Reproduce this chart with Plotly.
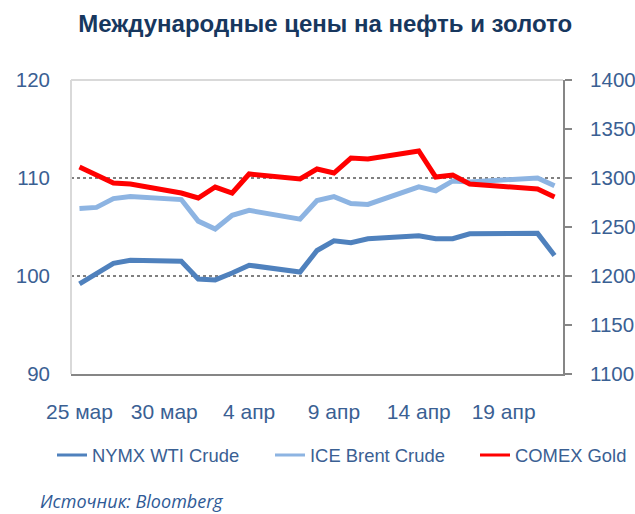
import plotly.graph_objects as go

dates = ["2014-03-25", "2014-03-26", "2014-03-27", "2014-03-28", "2014-03-31",
         "2014-04-01", "2014-04-02", "2014-04-03", "2014-04-04", "2014-04-07",
         "2014-04-08", "2014-04-09", "2014-04-10", "2014-04-11", "2014-04-14",
         "2014-04-15", "2014-04-16", "2014-04-17", "2014-04-21", "2014-04-22"]

wti = [99.2, 100.3, 101.3, 101.6, 101.5, 99.7, 99.6, 100.3, 101.1, 100.4,
       102.6, 103.6, 103.4, 103.8, 104.1, 103.8, 103.8, 104.3, 104.35, 102.1]
brent = [106.9, 107.0, 107.9, 108.1, 107.8, 105.6, 104.8, 106.2, 106.7, 105.8,
         107.7, 108.1, 107.4, 107.3, 109.1, 108.7, 109.7, 109.6, 110.0, 109.2]
gold = [1311.2, 1303.0, 1294.9, 1293.9, 1284.7, 1279.6, 1290.8, 1284.7, 1304.1, 1299.0,
        1309.2, 1305.1, 1320.4, 1319.4, 1327.6, 1301.0, 1303.1, 1293.9, 1288.8, 1280.6]

series_names = ["NYMX WTI Crude", "ICE Brent Crude", "COMEX Gold"]
series_colors = ["#4F81BD", "#8DB4E2", "#FF0000"]

tick_dates = ["2014-03-25", "2014-03-30", "2014-04-04", "2014-04-09", "2014-04-14", "2014-04-19"]
tick_labels = ["25 мар", "30 мар", "4 апр", "9 апр", "14 апр", "19 апр"]

TXT = "#3A6093"
FONT = "Liberation Sans, Arial, sans-serif"

fig = go.Figure()
values = [wti, brent, gold]
axes = ["y", "y", "y2"]
legends = ["legend", "legend2", "legend3"]
for name, color, vals, ax in zip(series_names, series_colors, values, axes):
    fig.add_trace(go.Scatter(x=dates, y=vals, name=name, mode="lines", yaxis=ax,
                             line=dict(color=color, width=5), showlegend=False,
                             hoverinfo="skip"))
# legend entries (thinner sample lines, as in the reference)
for name, color, ax, lg in zip(series_names, series_colors, axes, legends):
    fig.add_trace(go.Scatter(x=[None], y=[None], name=name, mode="lines", yaxis=ax,
                             line=dict(color=color, width=3), legend=lg))

leg_common = dict(orientation="h", xref="container", yref="container",
                  xanchor="left", yanchor="middle", y=1 - 455 / 514,
                  font=dict(family=FONT, size=18.4, color=TXT),
                  bgcolor="rgba(0,0,0,0)", borderwidth=0)

fig.update_layout(
    width=635, height=514,
    margin=dict(l=71, r=72, t=80, b=140, autoexpand=False),
    paper_bgcolor="white", plot_bgcolor="white",
    font=dict(family=FONT, color=TXT, size=20),
    title=dict(text="<b>Международные цены на нефть и золото</b>",
               x=0.512, xref="container", xanchor="center",
               y=1 - 24 / 514, yref="container", yanchor="middle",
               font=dict(family=FONT, size=24, color="#17375E")),
    xaxis=dict(type="date", range=["2014-03-24 12:00", "2014-04-22 12:00"],
               tickvals=tick_dates, ticktext=tick_labels, tickangle=0,
               showgrid=False, zeroline=False, showline=True, automargin=False,
               linecolor="#868686", linewidth=2, ticks="",
               ticklabelstandoff=18,
               tickfont=dict(size=21, color=TXT)),
    yaxis=dict(range=[90, 120], tickvals=[90, 100, 110, 120], automargin=False,
               showgrid=True, gridcolor="#808080", griddash="dot", gridwidth=1.5,
               zeroline=False, showline=False, ticks="",
               ticklabelstandoff=20,
               tickfont=dict(size=20.5, color=TXT)),
    yaxis2=dict(range=[1100, 1400], tickvals=[1100, 1150, 1200, 1250, 1300, 1350, 1400],
                overlaying="y", side="right", showgrid=False, zeroline=False, automargin=False,
                showline=True, linecolor="#868686", linewidth=2,
                ticks="outside", ticklen=7, tickwidth=2, tickcolor="#868686",
                ticklabelstandoff=14,
                tickfont=dict(size=20.5, color=TXT)),
    legend=dict(x=52 / 635, **leg_common),
    legend2=dict(x=270 / 635, **leg_common),
    legend3=dict(x=475 / 635, **leg_common),
    showlegend=True,
    shapes=[
        dict(type="line", xref="paper", yref="paper", x0=0, x1=1, y0=1, y1=1,
             line=dict(color="#D9D9D9", width=2), layer="above"),
        dict(type="line", xref="paper", yref="paper", x0=0, x1=0, y0=0, y1=1,
             line=dict(color="#D9D9D9", width=2), layer="above"),
    ],
    annotations=[
        dict(text="<i>Источник: Bloomberg</i>", xref="paper", yref="paper",
             x=-33 / 492, y=-0.433, xanchor="left", yanchor="middle", showarrow=False,
             font=dict(family="Open Sans, sans-serif", size=18, color="#2F5A96")),
    ],
)

fig.write_html("out.html", config={"displayModeBar": False},
               post_script="document.body.style.margin='0px';document.body.style.padding='0px';")
